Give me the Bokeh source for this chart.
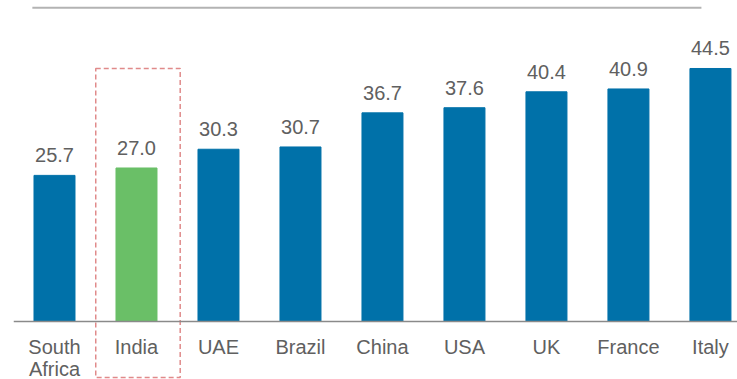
from bokeh.plotting import figure
from bokeh.models import ColumnDataSource, Span
from bokeh.core.properties import value
from bokeh.embed import file_html
from bokeh.resources import INLINE

categories = ["South\nAfrica", "India", "UAE", "Brazil", "China", "USA", "UK", "France", "Italy"]
values = [25.7, 27.0, 30.3, 30.7, 36.7, 37.6, 40.4, 40.9, 44.5]
highlight = "India"

BLUE = "#0071A9"
GREEN = "#6ABF67"
TXT = "#606060"
FONT = value("Liberation Sans")

xs = list(range(len(categories)))
colors = [GREEN if c == highlight else BLUE for c in categories]
labels = [f"{v:.1f}" for v in values]
src = ColumnDataSource(dict(x=xs, top=values, color=colors, label=labels, cat=categories,
                            zero=[0] * len(xs)))

p = figure(width=737, height=379, output_backend="svg", toolbar_location=None,
           x_range=(-0.5, 8.33), y_range=(-10.2, 56.46),
           min_border_left=13, min_border_right=0, min_border_top=0, min_border_bottom=0)
p.axis.visible = False
p.grid.visible = False
p.outline_line_color = None
p.background_fill_color = "white"
p.border_fill_color = "white"

p.vbar(x="x", top="top", bottom=0, width=0.5, color="color", source=src)

p.text(x="x", y="top", text="label", source=src, text_align="center", text_baseline="alphabetic",
       y_offset=-20, text_font=FONT, text_font_size="20px", text_color=TXT)

p.text(x="x", y="zero", text="cat", source=src, text_align="center", text_baseline="top",
       y_offset=14, text_font=FONT, text_font_size="20px", text_color=TXT, text_line_height=1.0)

# baseline
p.add_layout(Span(location=0, dimension="width", line_color="#8a8a8a", line_width=1.5))

# top rule
p.segment(x0=[-0.27], y0=[55.2], x1=[7.89], y1=[55.2], line_color="#b3b3b3", line_width=2)

# highlight box around India
hi = categories.index(highlight)
p.rect(x=[hi + 0.018], y=[(values[-1] - 9.85) / 2], width=1.03, height=values[-1] + 9.85,
       fill_color=None, line_color="#E08A8A", line_width=1.5, line_dash="5 3")

open("out.html", "w").write(file_html(p, INLINE))
